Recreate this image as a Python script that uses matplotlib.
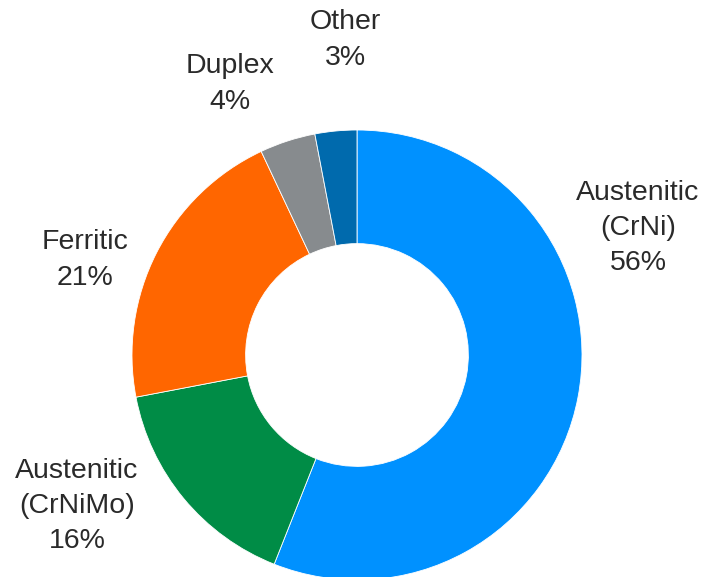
import matplotlib.pyplot as plt
import numpy as np

categories = ["Austenitic\n(CrNi)", "Austenitic\n(CrNiMo)", "Ferritic", "Duplex", "Other"]
shares = [56, 16, 21, 4, 3]
colors = ["#0091FF", "#008C46", "#FF6600", "#878B8E", "#006AAD"]

plt.rcParams['font.family'] = ['Liberation Sans', 'DejaVu Sans']

fig = plt.figure(figsize=(7.09, 5.77), dpi=100)
ax = fig.add_axes([0, 0, 1, 1])

# donut, clockwise from 12 o'clock
cx, cy, r = 357, 222, 225
wedges, _ = ax.pie(shares, colors=colors, startangle=90, counterclock=False,
                   center=(cx, cy), radius=r,
                   wedgeprops=dict(width=r * 0.505, edgecolor='white', linewidth=0.6))

# label anchors (pixel space, y up)
label_pos = [(638, 349), (77, 71), (85, 317), (230, 493), (345, 537)]
for name, val, (lx, ly) in zip(categories, shares, label_pos):
    ax.text(lx, ly, f"{name}\n{val}%", ha='center', va='center',
            fontsize=20.5, color='#2a2a2a', linespacing=1.46)

ax.set_xlim(0, 709)
ax.set_ylim(0, 577)
ax.set_aspect('equal')
ax.axis('off')

fig.savefig("out.png", dpi=100)
